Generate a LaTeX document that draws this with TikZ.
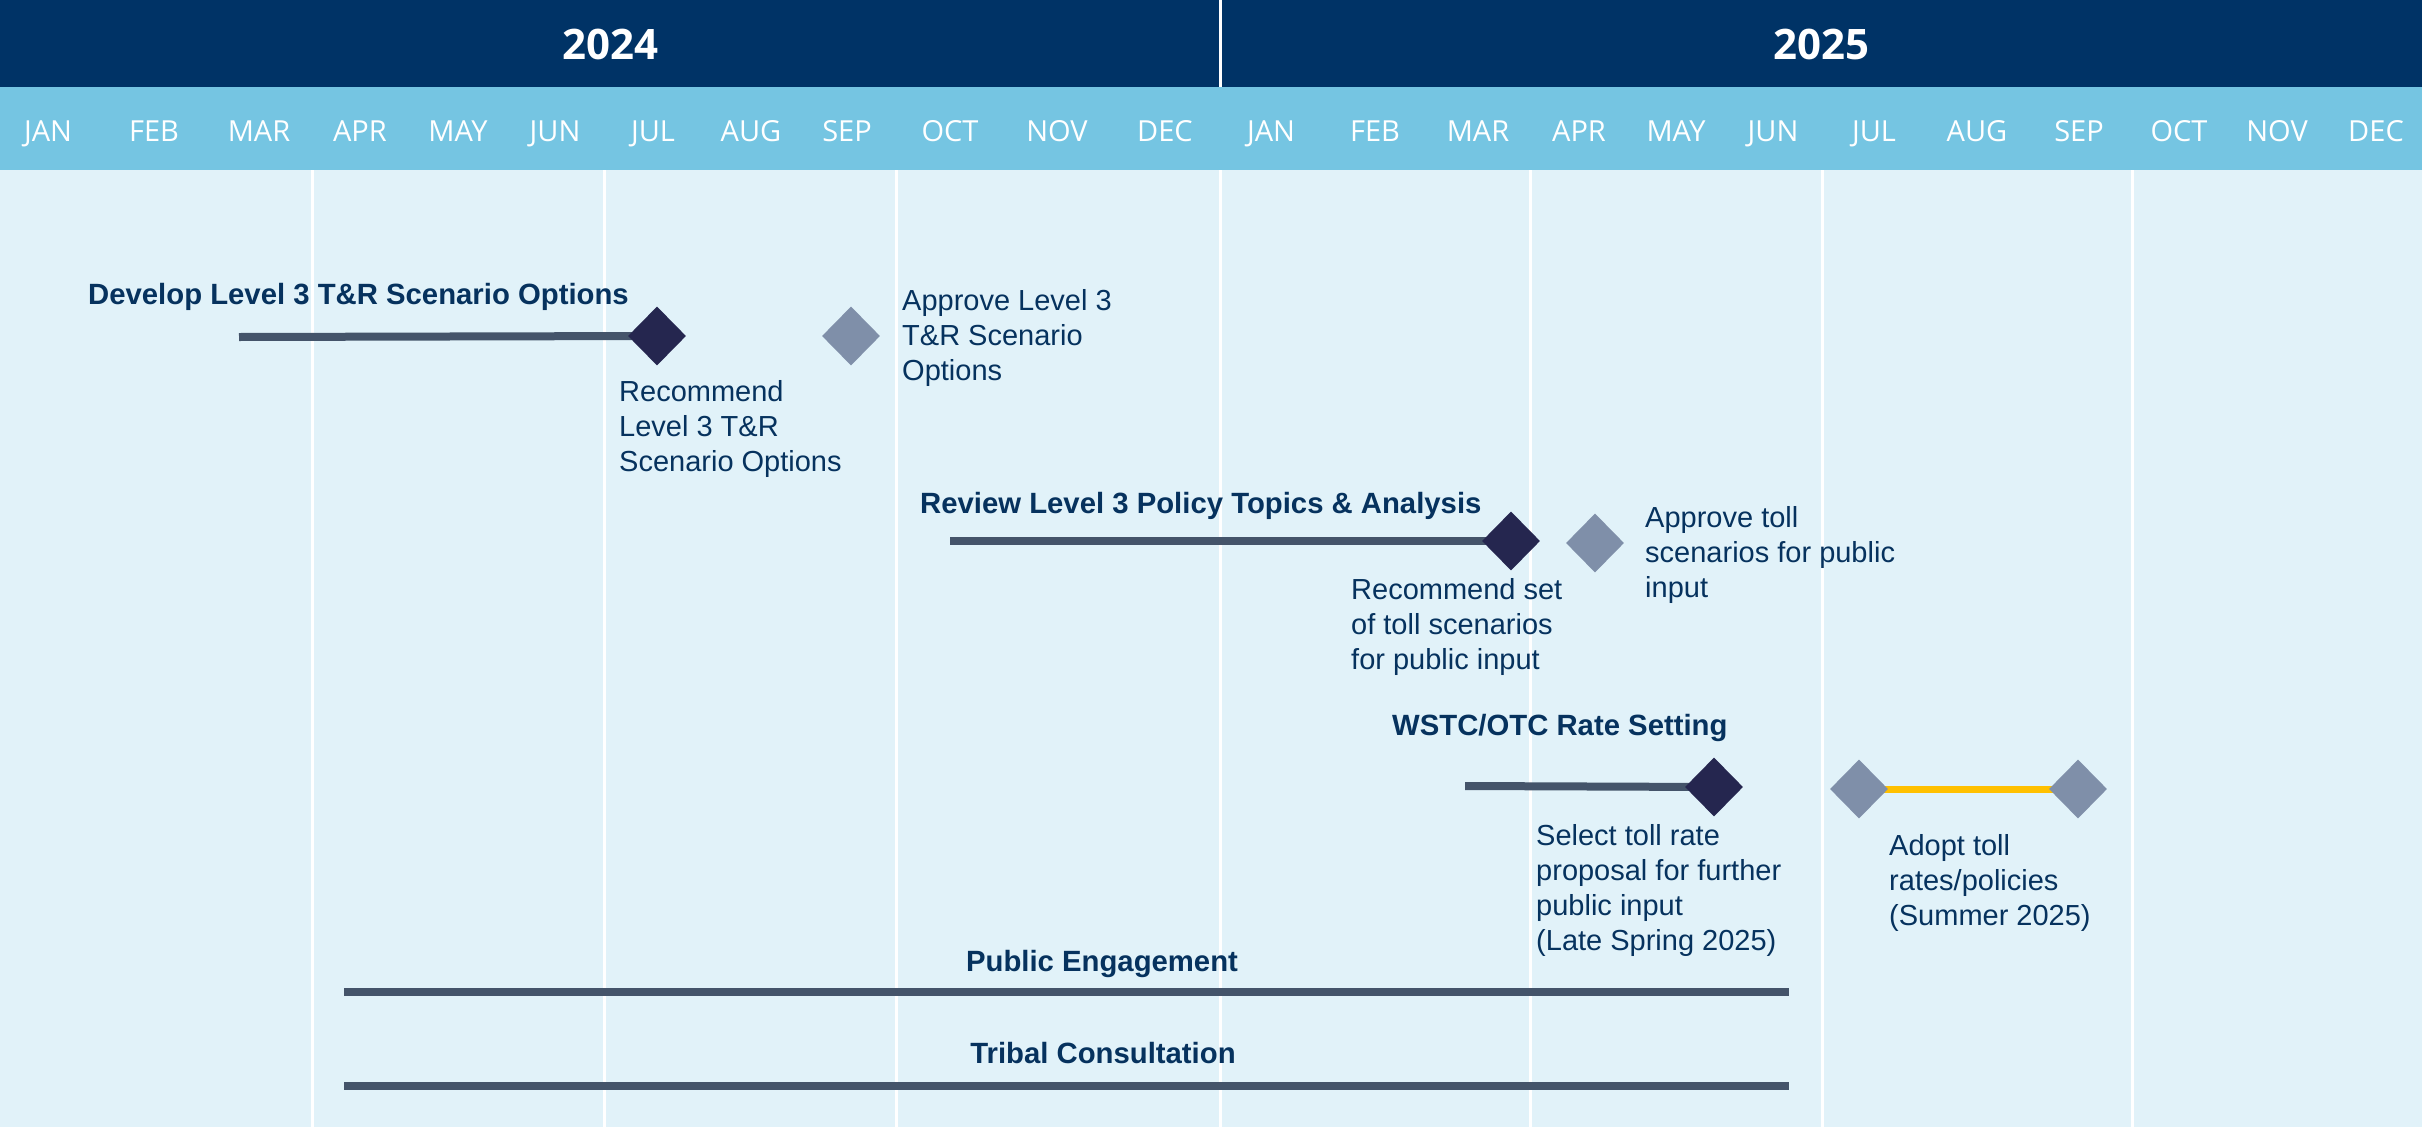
\documentclass[tikz,border=0pt]{standalone}
\usepackage{fontspec}
\setmainfont{Liberation Sans}
\newfontfamily\hdrfont{Open Sans}
\usetikzlibrary{shapes.geometric}
\pgfdeclarelayer{back}
\pgfdeclarelayer{bg}
\pgfsetlayers{back,bg,main}
\definecolor{hdark}{HTML}{003366}
\definecolor{hlight}{HTML}{75C5E2}
\definecolor{bodybg}{HTML}{E1F2F9}
\definecolor{txtnavy}{HTML}{06325E}
\definecolor{barcol}{HTML}{44546A}
\definecolor{dnavy}{HTML}{25264F}
\definecolor{dgrey}{HTML}{7F8FA9}
\definecolor{ybar}{HTML}{FFC000}
\newcommand{\mylines}[1]{\begin{tabular}[t]{@{}l@{}}#1\end{tabular}}
\tikzset{
  month/.style={anchor=base, inner sep=0, text=white, font=\hdrfont\fontsize{29}{35}\selectfont},
  year/.style={anchor=base, inner sep=0, text=white, font=\hdrfont\bfseries\fontsize{42}{50}\selectfont},
  title/.style={anchor=base west, inner sep=0, text=txtnavy, font=\bfseries\fontsize{29.3}{35}\selectfont},
  ctitle/.style={anchor=base, inner sep=0, text=txtnavy, font=\bfseries\fontsize{29.3}{35}\selectfont},
  note/.style={anchor=base west, inner sep=0, text=txtnavy, font=\fontsize{29}{35}\selectfont},
  bar/.style={draw=barcol, line width=8pt},
  ybarline/.style={draw=ybar, line width=7pt},
  mdark/.style={shape=diamond, fill=dnavy, inner sep=0, minimum width=58pt, minimum height=59pt},
  mlight/.style={shape=diamond, fill=dgrey, inner sep=0, minimum width=58pt, minimum height=59pt},
  grid/.style={draw=white, line width=3pt}
}
\begin{document}
\begin{tikzpicture}[x=1pt, y=-1pt]
\useasboundingbox (0,0) rectangle (2422,1127);
% backgrounds
\begin{pgfonlayer}{back}
\fill[bodybg] (0,170) rectangle (2422,1127);
\fill[hdark] (0,0) rectangle (2422,87);
\fill[hlight] (0,87) rectangle (2422,170);
\draw[grid] (1220,0) -- (1220,87);
\foreach \x in {312,604,896,1220,1530,1822,2132} {\draw[grid] (\x,170) -- (\x,1127);}
\end{pgfonlayer}
% years
\node[year] (y24) at (610,59) {2024};
\node[year] (y25) at (1821,59) {2025};
% months
\foreach \m/\x [count=\i] in {JAN/48,FEB/154,MAR/259,APR/360,MAY/458,JUN/555,JUL/653,AUG/751,SEP/847,OCT/950,NOV/1057,DEC/1165,JAN/1271,FEB/1375,MAR/1478,APR/1579,MAY/1676,JUN/1773,JUL/1874,AUG/1977,SEP/2079,OCT/2179,NOV/2277,DEC/2376}
  {\node[month] (m\i) at (\x,141.5) {\m};}
% row 1
\node[title] (t1) at (88,304) {Develop Level 3 T\&R Scenario Options};
\coordinate (b1s) at (239,337);
\node[mdark] (d1) at (657,336) {};
\node[mlight] (d2) at (851,336) {};
\node[note] (n1) at (619,401) {\mylines{Recommend\\Level 3 T\&R\\Scenario Options}};
\node[note] (n2) at (902,310) {\mylines{Approve Level 3\\T\&R Scenario\\Options}};
% row 2
\node[title] (t2) at (920,513) {Review Level 3 Policy Topics \& Analysis};
\coordinate (b2s) at (950,541);
\node[mdark] (d3) at (1511,541) {};
\node[mlight] (d4) at (1595,543) {};
\node[note] (n3) at (1351,599) {\mylines{Recommend set\\of toll scenarios\\for public input}};
\node[note] (n4) at (1645,527) {\mylines{Approve toll\\scenarios for public\\input}};
% row 3
\node[title] (t3) at (1392,735) {WSTC/OTC Rate Setting};
\coordinate (b3s) at (1465,786);
\node[mdark] (d5) at (1714,787) {};
\node[mlight] (d6) at (1859,789) {};
\node[mlight] (d7) at (2078,789) {};
\node[note] (n5) at (1536,845) {\mylines{Select toll rate\\proposal for further\\public input\\(Late Spring 2025)}};
\node[note] (n6) at (1889,855) {\mylines{Adopt toll\\rates/policies\\(Summer 2025)}};
% row 4 and 5
\node[ctitle] (t4) at (1102,971) {Public Engagement};
\coordinate (b4s) at (344,992);
\coordinate (b4e) at (1789,992);
\node[ctitle] (t5) at (1103,1063) {Tribal Consultation};
\coordinate (b5s) at (344,1086);
\coordinate (b5e) at (1789,1086);
\begin{pgfonlayer}{bg}
\draw[bar] (b1s) -- (d1.center);
\draw[bar] (b2s) -- (d3.center);
\draw[bar] (b3s) -- (d5.center);
\draw[ybarline] (d6.center) -- (d7.center);
\end{pgfonlayer}
\draw[bar] (b4s) -- (b4e);
\draw[bar] (b5s) -- (b5e);
\end{tikzpicture}
\end{document}
